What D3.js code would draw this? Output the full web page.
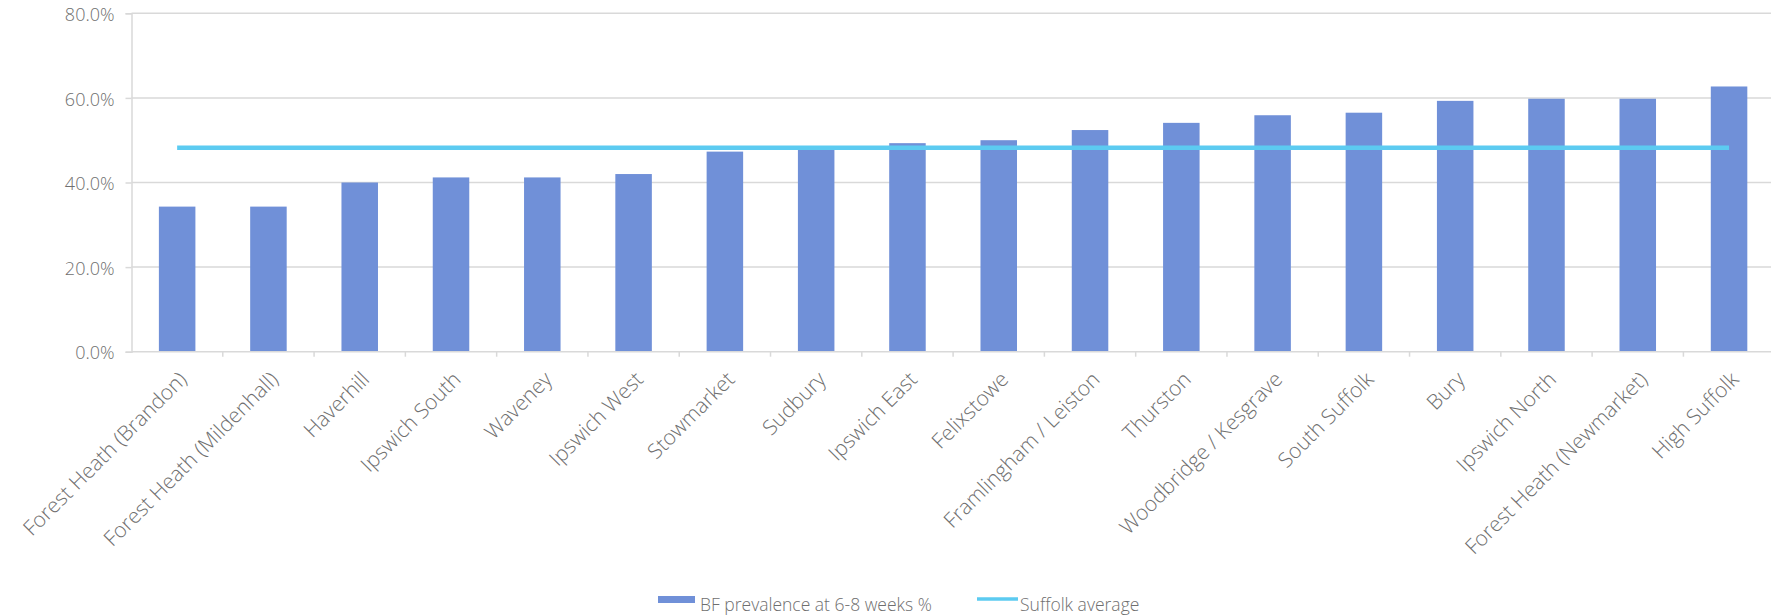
<!DOCTYPE html>
<html>
<head>
<meta charset="utf-8">
<script src="https://cdn.jsdelivr.net/npm/d3@7"></script>
<style>
  html, body { margin: 0; padding: 0; background: #fff; }
  svg { display: block; }
  text { font-family: "Open Sans", "Noto Sans", sans-serif; }
</style>
</head>
<body>
<svg id="chart" width="1771" height="616"></svg>
<script>
const categories = [
  "Forest Heath (Brandon)", "Forest Heath (Mildenhall)", "Haverhill", "Ipswich South",
  "Waveney", "Ipswich West", "Stowmarket", "Sudbury", "Ipswich East", "Felixstowe",
  "Framlingham / Leiston", "Thurston", "Woodbridge / Kesgrave", "South Suffolk",
  "Bury", "Ipswich North", "Forest Heath (Newmarket)", "High Suffolk"
];
const bfPrevalence = [34.3, 34.3, 40.0, 41.2, 41.2, 42.0, 47.3, 47.7, 49.3, 50.0,
  52.4, 54.1, 55.9, 56.5, 59.3, 59.8, 59.8, 62.7];
const suffolkAverage = 48.2;
const yTicks = [0, 20, 40, 60, 80];
const seriesNames = ["BF prevalence at 6-8 weeks %", "Suffolk average"];

const barColor = "#7090d8";
const lineColor = "#5ccbf1";
const textColor = "#6f6f6f";
const gridColor = "#d9d9d9";

const svg = d3.select("#chart");
const mLeft = 131.5, mRight = 1774.7, mTop = 13.3, mBottom = 351.7;

const x = d3.scaleBand().domain(categories).range([mLeft, mRight])
  .paddingInner(0.6).paddingOuter(0.3);
const xCell = d3.scaleBand().domain(categories).range([mLeft, mRight]).padding(0);
const y = d3.scaleLinear().domain([0, 80]).range([mBottom, mTop]);

// gridlines
svg.append("g").selectAll("line").data(yTicks.filter(d => d > 0)).join("line")
  .attr("x1", mLeft).attr("x2", mRight)
  .attr("y1", d => y(d)).attr("y2", d => y(d))
  .attr("stroke", gridColor).attr("stroke-width", 1.5);

// y axis
const yAxis = d3.axisLeft(y).tickValues(yTicks).tickSize(6).tickPadding(11)
  .tickFormat(d => d3.format(".1f")(d) + "%");
const gy = svg.append("g").attr("transform", `translate(${mLeft},0)`).call(yAxis);
gy.attr("font-family", null).attr("font-size", null);
gy.select(".domain").attr("stroke", gridColor).attr("stroke-width", 1.5);
gy.selectAll(".tick line").attr("stroke", gridColor).attr("stroke-width", 1.5);
gy.selectAll(".tick text").attr("fill", textColor).attr("dy", "0.4em")
  .style("font-size", "18px").style("font-weight", 300);

// bars
svg.append("g").selectAll("rect").data(categories).join("rect")
  .attr("x", d => x(d))
  .attr("width", x.bandwidth())
  .attr("y", (d, i) => y(bfPrevalence[i]))
  .attr("height", (d, i) => y(0) - y(bfPrevalence[i]))
  .attr("fill", barColor);

// x axis line and ticks
svg.append("line").attr("x1", mLeft).attr("x2", mRight)
  .attr("y1", y(0)).attr("y2", y(0))
  .attr("stroke", gridColor).attr("stroke-width", 1.5);
svg.append("g").selectAll("line").data(categories.slice(1)).join("line")
  .attr("x1", d => xCell(d)).attr("x2", d => xCell(d))
  .attr("y1", y(0)).attr("y2", y(0) + 5)
  .attr("stroke", gridColor).attr("stroke-width", 1.5);

// average line
const avgLine = d3.line().x(d => x(d) + x.bandwidth() / 2).y(() => y(suffolkAverage));
svg.append("path")
  .datum([categories[0], categories[categories.length - 1]])
  .attr("d", avgLine)
  .attr("fill", "none")
  .attr("stroke", lineColor).attr("stroke-width", 4.5);

// x labels
svg.append("g").selectAll("text").data(categories).join("text")
  .attr("transform", d => `translate(${x(d) + x.bandwidth() / 2 + 11},${y(0) + 29}) rotate(-45)`)
  .attr("text-anchor", "end")
  .attr("fill", textColor)
  .style("font-size", "21px").style("font-weight", 300)
  .text(d => d);

// legend
const lg = svg.append("g");
lg.append("rect").attr("x", 658).attr("y", 596).attr("width", 37).attr("height", 7).attr("fill", barColor);
lg.append("text").attr("x", 700).attr("y", 611).attr("fill", textColor)
  .style("font-size", "17.5px").style("font-weight", 300).text(seriesNames[0]);
lg.append("line").attr("x1", 977).attr("x2", 1018).attr("y1", 599).attr("y2", 599)
  .attr("stroke", lineColor).attr("stroke-width", 3.5);
lg.append("text").attr("x", 1020).attr("y", 611).attr("fill", textColor)
  .style("font-size", "17.5px").style("font-weight", 300).text(seriesNames[1]);
</script>
</body>
</html>
